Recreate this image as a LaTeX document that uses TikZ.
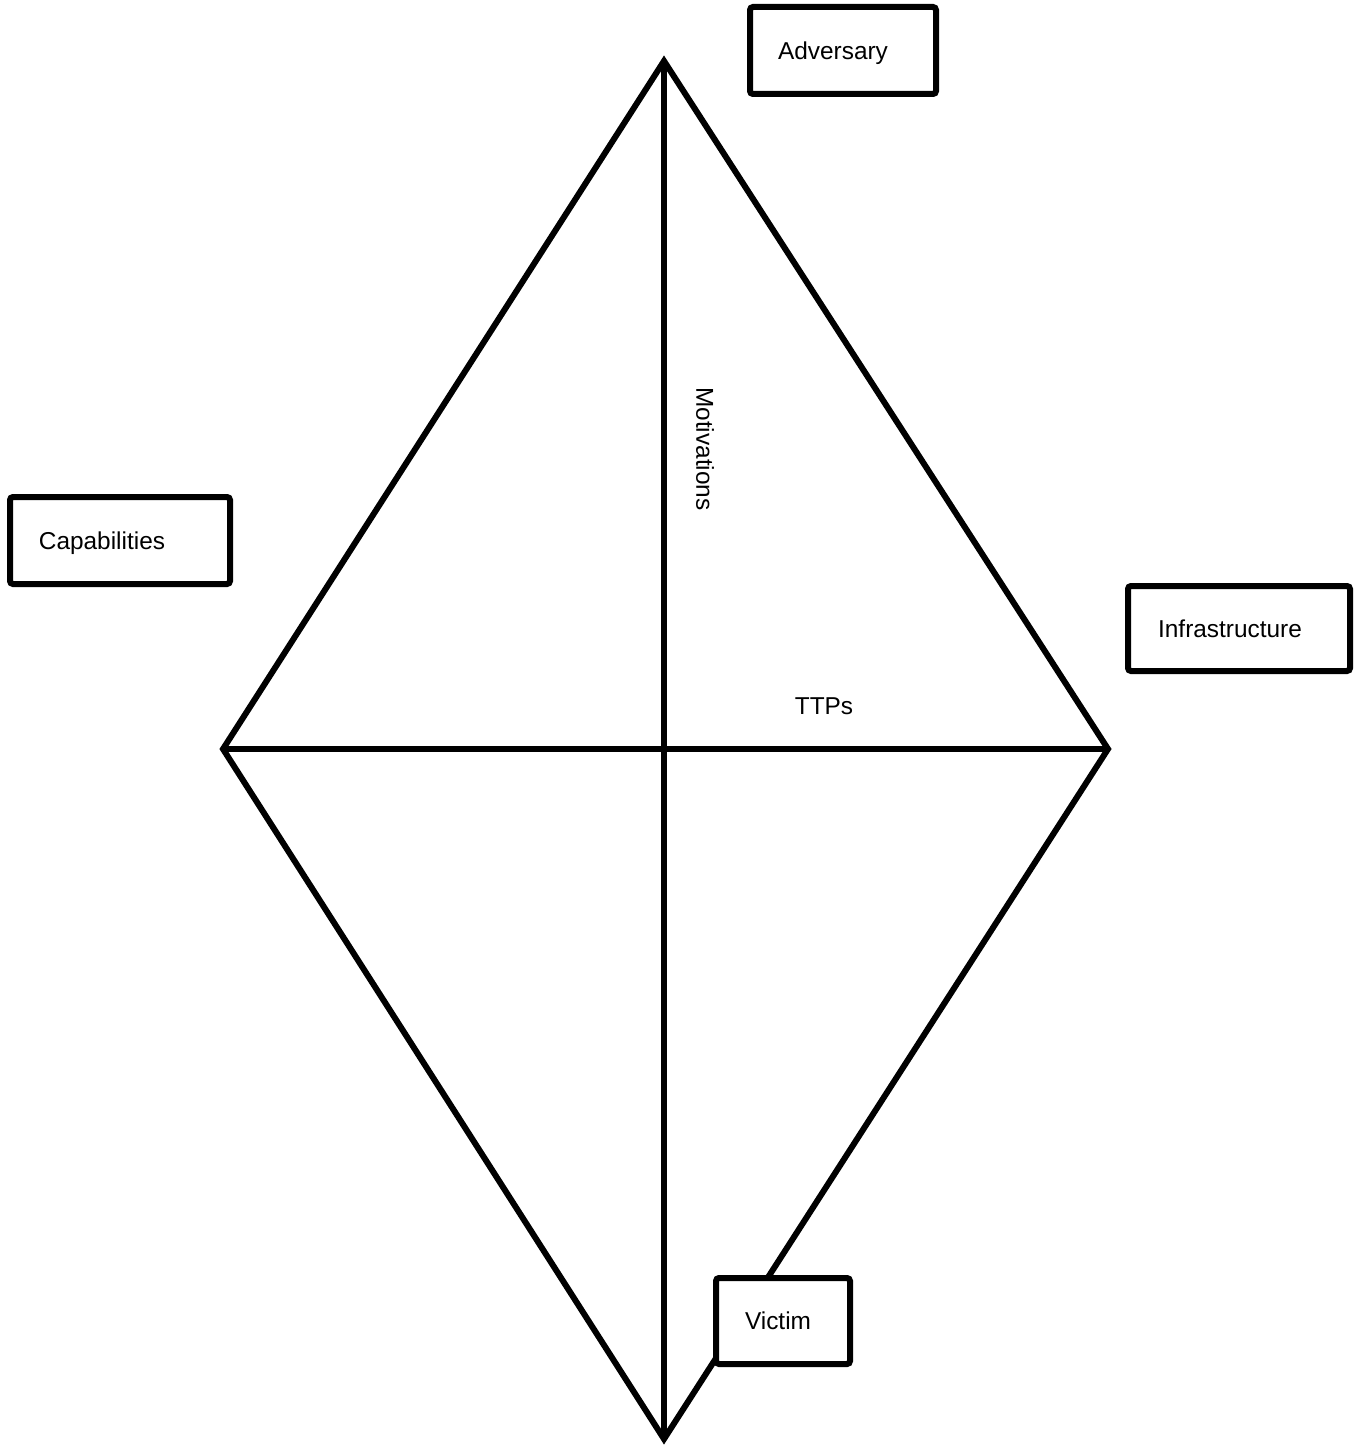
\documentclass[tikz,border=0pt]{standalone}
\usepackage{fontspec}
\setmainfont{Liberation Sans}
\begin{document}
\begin{tikzpicture}[x=0.5pt,y=-0.5pt,line width=3pt,
  box/.style={draw,fill=white,rounded corners=1.5pt,inner sep=0pt},
  lbl/.style={font=\fontsize{12.2}{14}\selectfont,inner sep=0pt,anchor=base}]
  \useasboundingbox (0,0) rectangle (1357,1450);
  \coordinate (T) at (664,61);
  \coordinate (L) at (223,749);
  \coordinate (R) at (1108,749);
  \coordinate (B) at (664,1439);

  \draw (T) -- (R) -- (B) -- (L) -- cycle;
  \draw (T) -- (B);
  \draw (L) -- (R);

  \node [box,minimum width=93pt,minimum height=43.5pt] (adv) at (843,50.5) {};
  \node [box,minimum width=110pt,minimum height=43.5pt] (cap) at (120,540.5) {};
  \node [box,minimum width=111pt,minimum height=42.5pt] (inf) at (1239,628.5) {};
  \node [box,minimum width=67pt,minimum height=43pt] (vic) at (783,1321) {};

  \node [lbl] (advtext) at (833,60) {Adversary};
  \node [lbl] (captext) at (102,549) {Capabilities};
  \node [lbl] (inftext) at (1230,637) {Infrastructure};
  \node [lbl] (victext) at (778,1329) {Victim};
  \node [lbl,anchor=center,rotate=-90] (mot) at (705,449) {Motivations};
  \node [lbl] (ttp) at (824,714) {TTPs};
\end{tikzpicture}
\end{document}
